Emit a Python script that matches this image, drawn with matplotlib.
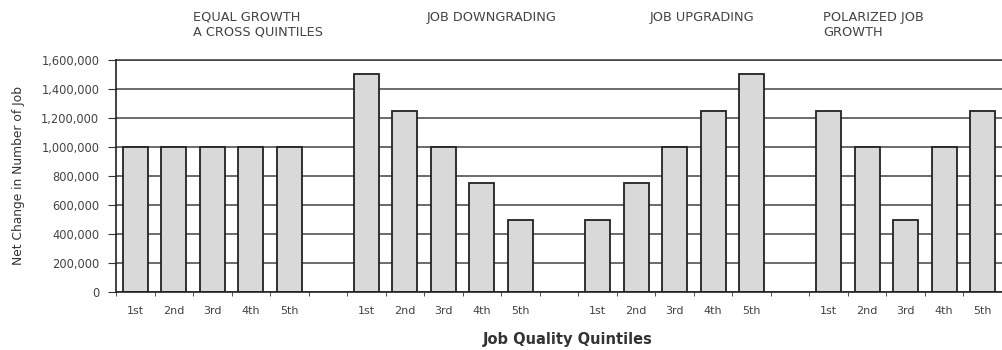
import matplotlib
matplotlib.use("Agg")
import matplotlib.pyplot as plt
import matplotlib.transforms as mtransforms
import numpy as np

# ---- data ----
quintiles = ["1st", "2nd", "3rd", "4th", "5th"]
groups = ["EQUAL GROWTH\nA CROSS QUINTILES", "JOB DOWNGRADING", "JOB UPGRADING",
          "POLARIZED JOB\nGROWTH"]
equal_growth = [1000000, 1000000, 1000000, 1000000, 1000000]
job_downgrading = [1500000, 1250000, 1000000, 750000, 500000]
job_upgrading = [500000, 750000, 1000000, 1250000, 1500000]
polarized = [1250000, 1000000, 500000, 1000000, 1250000]
y_ticks = [0, 200000, 400000, 600000, 800000, 1000000, 1200000, 1400000, 1600000]
title_x = [1.5, 7.57, 13.36, 17.85]   # left edge of each group caption (category units)

series = [equal_growth, job_downgrading, job_upgrading, polarized]

# build category sequence with one blank slot between groups
values, labels = [], []
for gi, s in enumerate(series):
    if gi > 0:
        values.append(np.nan)
        labels.append("")
    values.extend(s)
    labels.extend(quintiles)
x = np.arange(len(values))

plt.rcParams['font.family'] = ['DejaVu Sans']
fig = plt.figure(figsize=(10.02, 3.5), dpi=100)
ax = fig.add_axes([0.1158, 0.1657, 0.8842, 0.6629])

ax.set_xlim(-0.5, len(values) - 0.5)
ax.set_ylim(0, 1600000)
ax.set_yticks(y_ticks)
ax.set_yticklabels([f"{v:,}" for v in y_ticks], fontsize=8.3, color="#444444")
ax.yaxis.grid(True, color="#444444", linewidth=1.1, zorder=0)
ax.set_axisbelow(True)

mask = ~np.isnan(values)
ax.bar(x[mask], np.array(values)[mask], width=0.65, color="#d9d9d9",
       edgecolor="#222222", linewidth=1.3, zorder=2)

ax.set_xticks(x)
ax.set_xticklabels(labels, fontsize=8, color="#444444")
ax.tick_params(axis="x", which="major", length=0, pad=10)
ax.set_xticks(np.arange(-0.5, len(values) + 0.5, 1), minor=True)
ax.tick_params(axis="x", which="minor", length=3, color="#333333", direction="out")
ax.tick_params(axis="y", length=6, color="#333333", pad=6)

for sp in ["top", "right"]:
    ax.spines[sp].set_visible(False)
ax.spines["left"].set_color("#222222")
ax.spines["left"].set_linewidth(1.2)
ax.spines["bottom"].set_color("#222222")
ax.spines["bottom"].set_linewidth(1.2)
ax.axhline(1600000, color="#444444", linewidth=1.2, clip_on=False, zorder=1)

ax.set_ylabel("Net Change in Number of Job", fontsize=8.8, color="#333333", labelpad=12)
ax.set_xlabel("Job Quality Quintiles", fontsize=10.5, fontweight="bold", color="#333333",
              va="center")
ax.xaxis.set_label_coords(0.51, -0.205)

trans = mtransforms.blended_transform_factory(ax.transData, fig.transFigure)
line_y = [1 - 17 / 350, 1 - 32 / 350]
for tx, g in zip(title_x, groups):
    for li, line in enumerate(g.split("\n")):
        ax.text(tx, line_y[li], line, transform=trans, ha="left", va="center",
                fontsize=9.3, color="#444444")

fig.savefig("out.png", dpi=100)
